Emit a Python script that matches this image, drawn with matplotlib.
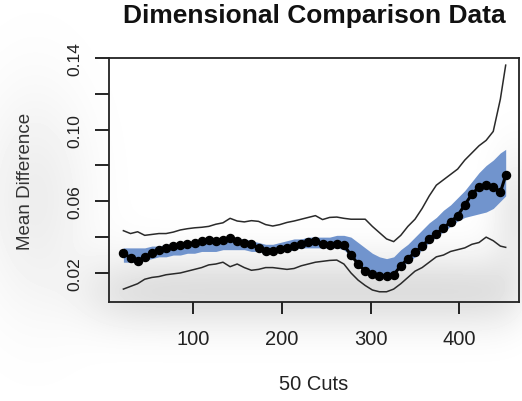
import numpy as np
import matplotlib
matplotlib.use("Agg")
import matplotlib.pyplot as plt

plt.rcParams['font.family'] = ['Liberation Sans', 'DejaVu Sans']

# Cut positions
cuts = [22, 30, 38, 46, 54, 62, 70, 78, 86, 94, 102, 110, 118, 126, 134, 142,
        150, 158, 166, 174, 182, 190, 198, 206, 214, 222, 230, 238, 246, 254,
        262, 270, 278, 286, 294, 302, 310, 318, 326, 334, 342, 350, 358, 366,
        374, 382, 390, 398, 406, 414, 422, 430, 438, 446, 452]

# Mean difference at each cut
mean_diff = [0.031, 0.0285, 0.0265, 0.029, 0.031, 0.033, 0.034, 0.035, 0.0355,
             0.036, 0.037, 0.038, 0.0385, 0.038, 0.0385, 0.0395, 0.038, 0.0365,
             0.036, 0.034, 0.0325, 0.0325, 0.0335, 0.034, 0.035, 0.036, 0.0375,
             0.038, 0.036, 0.0355, 0.036, 0.0355, 0.030, 0.025, 0.021, 0.0195,
             0.0185, 0.0183, 0.019, 0.024, 0.028, 0.0315, 0.035, 0.039, 0.042,
             0.045, 0.0485, 0.052, 0.058, 0.064, 0.068, 0.069, 0.068, 0.065,
             0.0745]

# Shaded interval around the mean
band_low = [0.026, 0.026, 0.026, 0.027, 0.028, 0.029, 0.029, 0.030, 0.030,
            0.031, 0.031, 0.032, 0.032, 0.032, 0.033, 0.033, 0.033, 0.033,
            0.032, 0.032, 0.031, 0.031, 0.032, 0.032, 0.033, 0.034, 0.034,
            0.034, 0.034, 0.034, 0.034, 0.033, 0.029, 0.025, 0.021, 0.019,
            0.018, 0.018, 0.019, 0.023, 0.026, 0.029, 0.033, 0.037, 0.040,
            0.043, 0.046, 0.049, 0.051, 0.052, 0.053, 0.054, 0.056, 0.060,
            0.063]
band_high = [0.034, 0.034, 0.034, 0.034, 0.035, 0.035, 0.036, 0.036, 0.037,
             0.037, 0.037, 0.038, 0.038, 0.038, 0.039, 0.039, 0.039, 0.039,
             0.038, 0.037, 0.036, 0.036, 0.037, 0.038, 0.039, 0.039, 0.040,
             0.040, 0.040, 0.040, 0.041, 0.041, 0.040, 0.037, 0.034, 0.031,
             0.029, 0.028, 0.029, 0.033, 0.036, 0.040, 0.044, 0.048, 0.051,
             0.055, 0.058, 0.062, 0.066, 0.071, 0.076, 0.080, 0.083, 0.087,
             0.089]

# Outer envelope
upper = [0.0436, 0.042, 0.043, 0.041, 0.0415, 0.042, 0.042, 0.0428, 0.044,
         0.0447, 0.0452, 0.0455, 0.046, 0.0472, 0.048, 0.0505, 0.049, 0.0485,
         0.0492, 0.0488, 0.047, 0.0462, 0.047, 0.0482, 0.049, 0.050, 0.051,
         0.052, 0.0498, 0.051, 0.0512, 0.0505, 0.050, 0.050, 0.050, 0.046,
         0.0425, 0.039, 0.0375, 0.041, 0.046, 0.050, 0.056, 0.063, 0.069,
         0.072, 0.075, 0.078, 0.083, 0.087, 0.091, 0.094, 0.099, 0.117, 0.136]
lower = [0.011, 0.0125, 0.014, 0.0165, 0.0175, 0.018, 0.019, 0.0195, 0.020,
         0.021, 0.022, 0.023, 0.0245, 0.025, 0.026, 0.0235, 0.025, 0.023,
         0.0215, 0.022, 0.023, 0.023, 0.0225, 0.022, 0.0225, 0.024, 0.025,
         0.026, 0.0265, 0.027, 0.0272, 0.025, 0.020, 0.016, 0.013, 0.0105,
         0.0095, 0.0095, 0.011, 0.014, 0.0175, 0.021, 0.023, 0.026, 0.029,
         0.030, 0.032, 0.033, 0.034, 0.036, 0.037, 0.040, 0.038, 0.035, 0.0343]

x_ticks = [100, 200, 300, 400]
y_ticks = [0.02, 0.04, 0.06, 0.08, 0.10, 0.12, 0.14]
y_tick_labels = ["0.02", "", "0.06", "", "0.10", "", "0.14"]

W, H = 522, 402
fig = plt.figure(figsize=(W / 100, H / 100), dpi=100)

# Soft grey shading behind the plot panel
bg = fig.add_axes([0, 0, 1, 1], zorder=-10)
px, py = np.meshgrid(np.arange(W), np.arange(H))
dark = (0.13 * np.exp(-((py - 292) / 38.0) ** 2)
        * (1 / (1 + np.exp(-(px - 95) / 18.0))) * (1 / (1 + np.exp((px - 515) / 12.0)))
        + 0.07 * np.exp(-((px - 35) / 55.0) ** 2) * np.exp(-((py - 200) / 110.0) ** 2)
        + 0.08 * np.exp(-((px - 515) / 25.0) ** 2) * np.exp(-((py - 215) / 60.0) ** 2))
shade = np.clip(1 - dark, 0, 1)
bg.imshow(shade, cmap="gray", vmin=0, vmax=1, extent=[0, W, H, 0],
          aspect="auto", interpolation="bilinear")
bg.set_axis_off()

ax = fig.add_axes([0.2088, 0.2463, 0.7855, 0.6070])
ax.set_facecolor("none")

ax.fill_between(cuts, band_low, band_high, color="#7194cd", linewidth=0)
ax.plot(cuts, upper, color="#2a2a2a", linewidth=1.1)
ax.plot(cuts, lower, color="#2a2a2a", linewidth=1.1)
ax.plot(cuts, mean_diff, color="black", linewidth=2.2, marker="o",
        markersize=5.8, markerfacecolor="black", markeredgecolor="black")

ax.set_xlim(5.8, 467)
ax.set_ylim(0.0038, 0.14)

ax.set_xticks(x_ticks)
ax.set_xticklabels([str(t) for t in x_ticks], fontsize=14.5, color="#222222")
ax.set_yticks(y_ticks)
ax.set_yticklabels(y_tick_labels, fontsize=12.5, rotation=90, va="center",
                   color="#222222")
ax.tick_params(axis="x", direction="out", length=8.5, width=1.2, pad=11)
ax.tick_params(axis="y", direction="out", length=10, width=1.2, pad=9)

for s in ax.spines.values():
    s.set_linewidth(1.3)
    s.set_color("#222222")

ax.set_xlabel("50 Cuts", fontsize=14.5, color="#222222", labelpad=19)
ax.set_ylabel("Mean Difference", fontsize=13.5, color="#333333", labelpad=24)
fig.text(0.6015, 0.960, "Dimensional Comparison Data", ha="center",
         va="center", fontsize=19, fontweight="bold", color="#111111")

fig.savefig("out.png", dpi=100)
